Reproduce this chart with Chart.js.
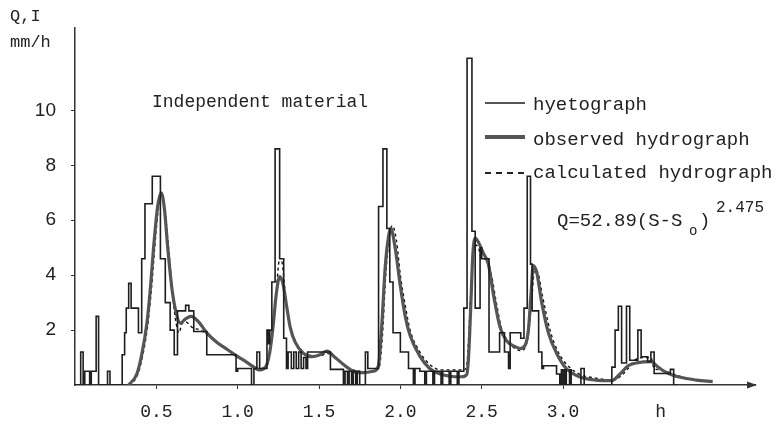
<!DOCTYPE html>
<html>
<head>
<meta charset="utf-8">
<script src="https://cdn.jsdelivr.net/npm/chart.js@4.4.1/dist/chart.umd.min.js"></script>
<style>
  body { margin: 0; background: #fff; }
  #wrap { position: relative; width: 780px; height: 429px; font-family: "Liberation Mono", "DejaVu Sans Mono", monospace; color: #222; }
  #chart { position: absolute; left: 0; top: 0; }
  .note { position: absolute; white-space: nowrap; line-height: 1; }
  .key { position: absolute; left: 485px; width: 40px; height: 0; }
  .key.dash { height: 1.5px; background: repeating-linear-gradient(90deg, #222 0 6px, transparent 6px 11px); }
</style>
</head>
<body>
<div id="wrap">
  <canvas id="chart" width="780" height="429"></canvas>
  <div class="note" style="left:10px;top:8px;font-size:17px">Q,I</div>
  <div class="note" style="left:10px;top:34px;font-size:17px">mm/h</div>
  <div class="note" style="left:152px;top:93px;font-size:18px">Independent material</div>

  <div class="key" style="top:102px;border-top:2.5px solid #555"></div>
  <div class="key" style="top:135px;border-top:4px solid #555"></div>
  <div class="key dash" style="top:172px"></div>
  <div class="note" style="left:533px;top:96px;font-size:19px">hyetograph</div>
  <div class="note" style="left:533px;top:131px;font-size:19px">observed hydrograph</div>
  <div class="note" style="left:533px;top:164px;font-size:19px">calculated hydrograph</div>

  <div class="note" style="left:557px;top:212px;font-size:19px">Q=52.89(S-S</div>
  <div class="note" style="left:689px;top:224px;font-size:14px">o</div>
  <div class="note" style="left:699px;top:212px;font-size:19px">)</div>
  <div class="note" style="left:716px;top:200px;font-size:16px">2.475</div>
</div>
<script>
// hyetograph: rain intensity, each value holds from its time until the next one
const hyetoTime = [0, 0.035, 0.05, 0.06, 0.09, 0.10, 0.13, 0.145, 0.2, 0.215,
  0.29, 0.305, 0.315, 0.33, 0.345, 0.39, 0.41, 0.43, 0.475, 0.525,
  0.555, 0.585, 0.61, 0.63, 0.68, 0.7, 0.73, 0.81, 0.99, 1.0,
  1.085, 1.1, 1.118, 1.135, 1.18, 1.19, 1.197, 1.21, 1.23, 1.258,
  1.283, 1.3, 1.31, 1.33, 1.345, 1.36, 1.375, 1.39, 1.405, 1.42,
  1.43, 1.57, 1.65, 1.66, 1.675, 1.685, 1.7, 1.71, 1.725, 1.735,
  1.75, 1.785, 1.8, 1.866, 1.893, 1.917, 1.935, 1.955, 2.0, 2.05,
  2.08, 2.09, 2.12, 2.15, 2.16, 2.2, 2.21, 2.25, 2.26, 2.3,
  2.31, 2.35, 2.36, 2.39, 2.41, 2.44, 2.46, 2.49, 2.5, 2.545,
  2.61, 2.64, 2.665, 2.675, 2.74, 2.76, 2.78, 2.8, 2.81, 2.85,
  2.87, 2.88, 2.96, 2.98, 2.99, 3.0, 3.01, 3.02, 3.04, 3.05,
  3.11, 3.13, 3.3, 3.32, 3.34, 3.36, 3.39, 3.41, 3.46, 3.48,
  3.52, 3.54, 3.56, 3.66, 3.68, 3.7];
const hyetoRain = [0, 1.2, 0, 0.5, 0, 0.5, 2.5, 0, 0.5, 0,
  1.1, 1.9, 2.8, 3.7, 2.8, 1.9, 4.6, 6.6, 7.6, 4.6,
  3.0, 2.0, 1.1, 2.7, 2.9, 2.7, 1.95, 1.1, 0.5, 0.6,
  0, 0.6, 1.2, 0.6, 2.0, 1.5, 2.0, 3.75, 8.6, 4.6,
  1.7, 0.6, 1.2, 0.6, 1.2, 0.6, 1.2, 0.6, 1.0, 0.6,
  1.2, 0.57, 0, 0.5, 0, 0.5, 0, 0.5, 0, 0.5,
  0, 1.2, 0.6, 6.5, 8.6, 5.7, 3.75, 1.9, 1.2, 0.6,
  0, 0.6, 0.5, 0, 0.5, 0, 0.5, 0, 0.5, 0,
  0.5, 0, 0.5, 2.8, 11.9, 5.6, 2.8, 5.0, 4.6, 1.2,
  1.9, 1.2, 0.6, 1.9, 1.7, 2.8, 7.6, 4.4, 2.7, 1.2,
  0.6, 0.7, 0.4, 0, 0.55, 0, 0.55, 0, 0.55, 0,
  0.6, 0, 0.65, 2.0, 2.87, 0.8, 2.87, 0.9, 2.0, 1.03,
  0.85, 1.2, 0.42, 0.57, 0, 0];

// observed hydrograph
const obsTime = [0.33, 0.38, 0.41, 0.443, 0.463, 0.483, 0.508, 0.53, 0.55, 0.57,
  0.596, 0.623, 0.647, 0.678, 0.713, 0.76, 0.81, 0.873, 0.934, 0.996,
  1.05, 1.1, 1.13, 1.17, 1.196, 1.217, 1.237, 1.258, 1.278, 1.3,
  1.323, 1.354, 1.405, 1.46, 1.497, 1.55, 1.59, 1.65, 1.712, 1.773,
  1.835, 1.865, 1.886, 1.907, 1.927, 1.941, 1.968, 2.0, 2.03, 2.06,
  2.12, 2.18, 2.245, 2.306, 2.378, 2.408, 2.42, 2.433, 2.445, 2.46,
  2.48, 2.51, 2.541, 2.572, 2.613, 2.654, 2.705, 2.736, 2.767, 2.787,
  2.803, 2.817, 2.838, 2.869, 2.91, 2.961, 3.02, 3.1, 3.2, 3.3,
  3.35, 3.4, 3.45, 3.545, 3.575, 3.637, 3.72, 3.82, 3.92];
const obsFlow = [0, 0.4, 1.1, 2.3, 3.5, 5.0, 6.5, 7.0, 6.4, 5.0,
  3.5, 2.6, 2.25, 2.4, 2.5, 2.3, 1.9, 1.55, 1.3, 1.05,
  0.85, 0.65, 0.55, 0.65, 1.15, 2.1, 3.3, 3.95, 3.7, 2.9,
  2.1, 1.55, 1.15, 1.03, 1.08, 1.23, 1.05, 0.75, 0.5, 0.45,
  0.5, 0.7, 2.2, 4.3, 5.4, 5.7, 5.0, 3.6, 2.5, 1.8,
  1.05, 0.6, 0.4, 0.32, 0.3, 0.38, 1.1, 2.9, 4.7, 5.35,
  5.2, 4.8, 4.4, 3.3, 2.1, 1.6, 1.4, 1.33, 1.45, 2.0,
  3.3, 4.35, 4.1, 3.0, 1.9, 1.15, 0.6, 0.3, 0.18, 0.16,
  0.4, 0.7, 0.8, 0.85, 0.7, 0.45, 0.28, 0.18, 0.12];

// calculated hydrograph, Q = 52.89 (S - So)^2.475
const calcTime = [0.33, 0.38, 0.41, 0.443, 0.47, 0.49, 0.51, 0.532, 0.55, 0.575,
  0.6, 0.62, 0.64, 0.655, 0.68, 0.72, 0.77, 0.82, 0.873, 0.934,
  1.0, 1.05, 1.1, 1.14, 1.18, 1.2, 1.22, 1.24, 1.255, 1.27,
  1.29, 1.31, 1.34, 1.38, 1.43, 1.5, 1.55, 1.6, 1.65, 1.71,
  1.77, 1.83, 1.87, 1.89, 1.91, 1.93, 1.95, 1.975, 2.0, 2.03,
  2.06, 2.12, 2.18, 2.25, 2.3, 2.38, 2.405, 2.415, 2.43, 2.445,
  2.46, 2.48, 2.5, 2.53, 2.56, 2.59, 2.62, 2.66, 2.7, 2.74,
  2.77, 2.79, 2.81, 2.825, 2.845, 2.875, 2.92, 2.97, 3.03, 3.1,
  3.2, 3.3, 3.35, 3.4, 3.44, 3.5, 3.54, 3.56, 3.6, 3.7,
  3.8, 3.9];
const calcFlow = [0, 0.3, 0.9, 2.0, 3.5, 5.0, 6.3, 7.0, 6.5, 5.0,
  3.3, 2.3, 1.9, 2.2, 2.3, 2.1, 2.0, 1.8, 1.55, 1.3,
  1.05, 0.85, 0.65, 0.6, 0.7, 1.2, 2.3, 3.6, 4.5, 4.5,
  3.5, 2.5, 1.8, 1.35, 1.1, 1.05, 1.15, 1.0, 0.75, 0.55,
  0.48, 0.5, 0.65, 1.8, 4.0, 5.3, 5.8, 5.3, 4.0, 2.9,
  2.0, 1.2, 0.75, 0.55, 0.55, 0.55, 0.6, 1.2, 3.0, 4.6,
  5.1, 5.0, 4.6, 4.6, 4.0, 3.0, 2.1, 1.6, 1.35, 1.25,
  1.4, 2.0, 3.3, 4.2, 4.1, 3.2, 2.0, 1.2, 0.7, 0.4,
  0.25, 0.18, 0.3, 0.6, 0.9, 1.0, 1.0, 0.6, 0.55, 0.35,
  0.2, 0.12];

const xTicks = [0.5, 1.0, 1.5, 2.0, 2.5, 3.0, 3.6];
const xTickNames = ["0.5", "1.0", "1.5", "2.0", "2.5", "3.0", "h"];
const yTicks = [2, 4, 6, 8, 10];

const pairs = (xs, ys) => xs.map((x, i) => ({ x: x, y: ys[i] }));

// little arrow head at the end of the time axis
const axisArrow = {
  id: "axisArrow",
  afterDraw(chart) {
    const { ctx, chartArea } = chart;
    const x = chartArea.right;
    const y = chartArea.bottom;
    ctx.save();
    ctx.fillStyle = "#333";
    ctx.beginPath();
    ctx.moveTo(x + 2, y);
    ctx.lineTo(x - 8, y - 3.5);
    ctx.lineTo(x - 8, y + 3.5);
    ctx.closePath();
    ctx.fill();
    ctx.restore();
  }
};

const ctx = document.getElementById("chart").getContext("2d");

const chart = new Chart(ctx, {
  type: "line",
  data: {
    datasets: [{
      label: "hyetograph",
      data: pairs(hyetoTime, hyetoRain),
      stepped: "before",
      borderColor: "#1e1e1e",
      borderWidth: 1.6,
      pointRadius: 0
    }, {
      label: "observed hydrograph",
      data: pairs(obsTime, obsFlow),
      cubicInterpolationMode: "monotone",
      borderColor: "#555",
      borderWidth: 3.2,
      pointRadius: 0
    }, {
      label: "calculated hydrograph",
      data: pairs(calcTime, calcFlow),
      cubicInterpolationMode: "monotone",
      borderColor: "#111",
      borderWidth: 1.4,
      borderDash: [3, 3],
      pointRadius: 0
    }]
  },
  options: {
    responsive: false,
    animation: false,
    devicePixelRatio: 1,
    layout: { padding: { left: 0, right: 25, top: 28, bottom: 0 } },
    plugins: { legend: { display: false }, tooltip: { enabled: false } },
    scales: {
      x: {
        type: "linear",
        min: 0,
        max: 4.18,
        afterFit: (scale) => { scale.height = 44; },
        afterBuildTicks: (scale) => { scale.ticks = xTicks.map(v => ({ value: v })); },
        border: { display: true, color: "#333", width: 1.5 },
        grid: {
          drawOnChartArea: false,
          tickLength: 4,
          tickColor: (c) => (c.tick && c.tick.value === 3.6 ? "rgba(0,0,0,0)" : "#333")
        },
        ticks: {
          autoSkip: false,
          maxRotation: 0,
          padding: 12,
          color: "#222",
          font: { family: "'Liberation Mono', monospace", size: 18 },
          callback: (v) => xTickNames[xTicks.indexOf(v)]
        }
      },
      y: {
        min: 0,
        max: 13,
        afterFit: (scale) => { scale.width = 75; },
        afterBuildTicks: (scale) => { scale.ticks = yTicks.map(v => ({ value: v })); },
        border: { display: true, color: "#333", width: 1.5 },
        grid: { drawOnChartArea: false, tickLength: 4, tickColor: "#333" },
        ticks: {
          padding: 15,
          color: "#222",
          font: { family: "'Liberation Sans', sans-serif", size: 19 }
        }
      }
    }
  },
  plugins: [axisArrow]
});
</script>
</body>
</html>
